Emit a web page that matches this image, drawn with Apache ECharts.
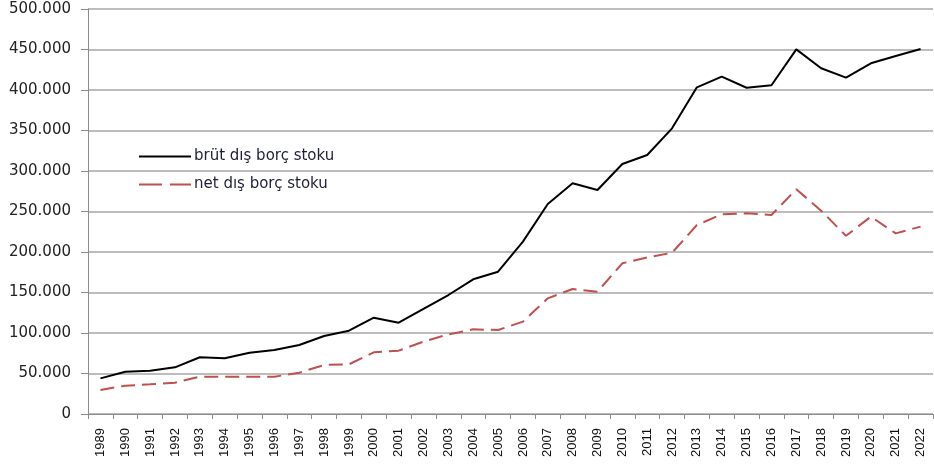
<!DOCTYPE html>
<html>
<head>
<meta charset="utf-8">
<script src="https://cdn.jsdelivr.net/npm/echarts@6/dist/echarts.min.js"></script>
<style>
html,body{margin:0;padding:0;background:#fff;}
#chart{width:934px;height:467px;}
</style>
</head>
<body>
<div id="chart"></div>
<script>
const years = ['1989','1990','1991','1992','1993','1994','1995','1996','1997','1998','1999','2000','2001','2002','2003','2004','2005','2006','2007','2008','2009','2010','2011','2012','2013','2014','2015','2016','2017','2018','2019','2020','2021','2022'];
const grossDebt = [44000,52200,53500,57600,70000,68800,75700,79000,85200,96300,102900,118900,112700,129800,146900,166300,175700,212800,259300,284800,276500,308600,319800,352700,403300,416500,402800,405800,450200,426800,415200,433000,442000,450600];
const netDebt = [29600,35000,36600,38700,46000,46000,46000,46000,51000,60500,61300,76100,78200,89300,98300,104500,103700,114000,142800,154300,151000,186000,193400,199000,233300,246500,247800,245700,277400,251000,220000,243600,223000,231300];
const seriesNames = ['brüt dış borç stoku','net dış borç stoku'];

function fmt(v){
  return String(v).replace(/\B(?=(\d{3})+(?!\d))/g,'.');
}

const chart = echarts.init(document.getElementById('chart'), null, {renderer:'canvas'});
chart.setOption({
  animation:false,
  backgroundColor:'#ffffff',
  grid:{left:88,right:1,top:9,bottom:53,containLabel:false},
  legend:{
    orient:'vertical',
    left:133,
    top:144,
    itemWidth:52,
    itemHeight:14,
    itemGap:13,
    itemStyle:{opacity:0},
    data:[
      {name:seriesNames[0]},
      {name:seriesNames[1], lineStyle:{type:[23,8]}}
    ],
    textStyle:{fontFamily:'DejaVu Sans',fontSize:15,color:'#1e1e3a',padding:[0,0,0,-2]}
  },
  xAxis:{
    type:'category',
    data:years,
    boundaryGap:true,
    axisLine:{lineStyle:{color:'#8c8c8c',width:1}},
    axisTick:{show:true,length:5,lineStyle:{color:'#8c8c8c'}},
    axisLabel:{rotate:90,margin:14,fontFamily:'Liberation Sans',fontSize:13,color:'#111'},
    splitLine:{show:false}
  },
  yAxis:{
    type:'value',
    min:0,max:500000,interval:50000,
    axisLine:{show:true,lineStyle:{color:'#8c8c8c',width:1}},
    axisTick:{show:true,length:7,lineStyle:{color:'#8c8c8c'}},
    axisLabel:{margin:17,fontFamily:'DejaVu Sans',fontSize:15,color:'#222',formatter:fmt},
    splitLine:{show:true,lineStyle:{color:'#a6a6a6',width:1.5}}
  },
  series:[
    {
      name:seriesNames[0],
      type:'line',
      data:grossDebt,
      symbol:'none',
      lineStyle:{color:'#000000',width:2},
      itemStyle:{color:'#000000'}
    },
    {
      name:seriesNames[1],
      type:'line',
      data:netDebt,
      symbol:'none',
      lineStyle:{color:'#c0504d',width:2,type:[14,7]},
      itemStyle:{color:'#c0504d'}
    }
  ]
});
</script>
</body>
</html>
